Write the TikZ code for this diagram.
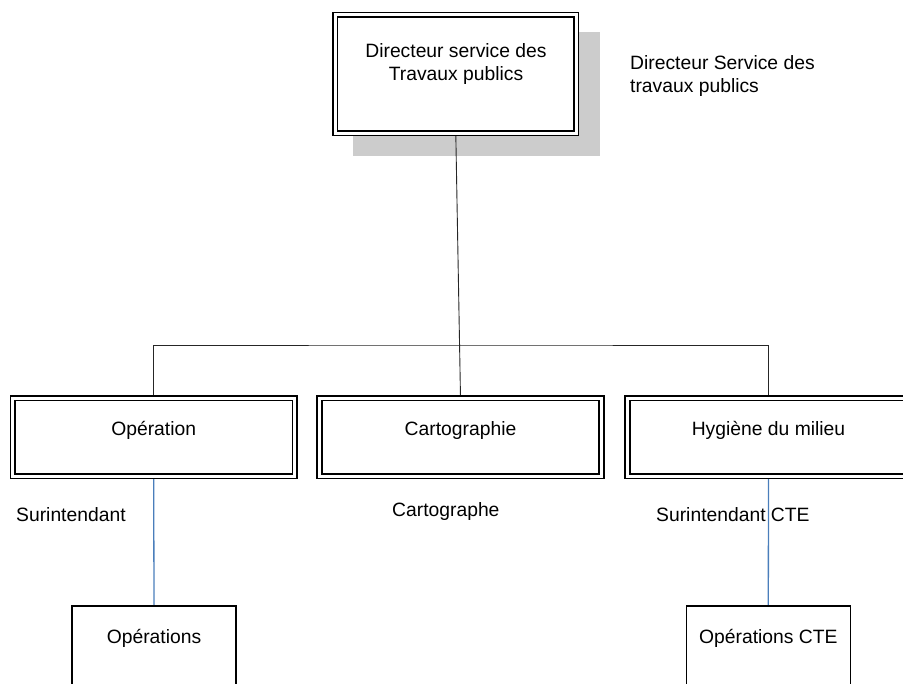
\documentclass[tikz,border=0pt]{standalone}
\usepackage{fontspec}
\setmainfont{Liberation Sans}
\usetikzlibrary{backgrounds}
\definecolor{shadowgray}{RGB}{204,204,204}
\definecolor{linkblue}{RGB}{74,126,187}
\tikzset{
  unitbox/.style={draw, double, line width=1.5pt, double distance=3.1pt,
    fill=white, minimum width=282pt, minimum height=78pt, inner sep=0pt},
  subbox/.style={draw, line width=1.3pt, fill=white,
    minimum width=164pt, minimum height=120pt, inner sep=0pt},
  txt/.style={inner sep=0pt, font=\fontsize{19.3}{23}\selectfont},
  orgline/.style={draw=black!85, line width=0.9pt},
  bluelink/.style={draw=linkblue, line width=1.3pt},
}
\begin{document}
\begin{tikzpicture}[x=1pt, y=-1pt]
  \useasboundingbox (0,0) rectangle (903,684);

  % boxes
  \node[unitbox, minimum width=241pt, minimum height=118.5pt] (dir) at (455.8,74) {};
  \node[unitbox] (op) at (153.7,437.3) {};
  \node[unitbox] (carto) at (460.5,437.3) {};
  \node[unitbox] (hyg) at (768.5,437.3) {};
  \node[subbox] (ops) at (154,666) {};
  \node[subbox] (opscte) at (768.3,666) {};
  \coordinate (bar) at (460.5,345);

  % shadow and connectors behind the boxes
  \begin{scope}[on background layer]
    \fill[shadowgray] (353,32) rectangle (600,156);
    \draw[orgline] (dir.south) -- (carto.north);
    \draw[orgline] (op.north) |- (bar) -| (hyg.north);
    \draw[bluelink] (op.south) -- (ops.north);
    \draw[bluelink] (hyg.south) -- (opscte.north);
  \end{scope}

  % texts
  \node[txt, anchor=base] (dirt1) at (456,58) {Directeur service des};
  \node[txt, anchor=base] (dirt2) at (456,81) {Travaux publics};
  \node[txt, anchor=base west] (side1) at (630,70) {Directeur Service des};
  \node[txt, anchor=base west] (side2) at (630,93) {travaux publics};
  \node[txt, anchor=base] (opt) at (153.7,435.5) {Opération};
  \node[txt, anchor=base] (cartot) at (460.5,435.5) {Cartographie};
  \node[txt, anchor=base] (hygt) at (768.5,435.5) {Hygiène du milieu};
  \node[txt, anchor=base west] (sur1) at (16,521.5) {Surintendant};
  \node[txt, anchor=base west] (cartographe) at (392,517) {Cartographe};
  \node[txt, anchor=base west] (sur2) at (656,521.5) {Surintendant CTE};
  \node[txt, anchor=base] (opst) at (154,643) {Opérations};
  \node[txt, anchor=base] (opsctet) at (768.3,643) {Opérations CTE};
\end{tikzpicture}
\end{document}
